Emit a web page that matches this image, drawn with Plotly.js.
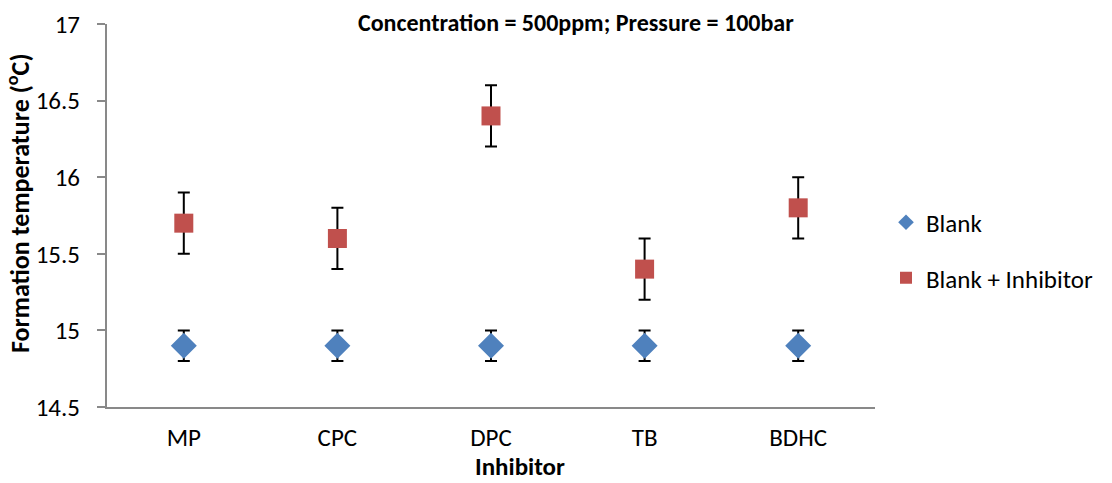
<!DOCTYPE html>
<html><head><meta charset="utf-8">
<script src="https://cdn.plot.ly/plotly-3.0.1.min.js"></script>
<style>html,body{margin:0;padding:0;background:#fff}#chart{width:1112px;height:483px}</style>
</head><body><div id="chart"></div>
<script>
const categories = ["MP", "CPC", "DPC", "TB", "BDHC"];
const blankValues = [14.9, 14.9, 14.9, 14.9, 14.9];
const blankErrors = [0.1, 0.1, 0.1, 0.1, 0.1];
const inhibitorValues = [15.7, 15.6, 16.4, 15.4, 15.8];
const inhibitorErrors = [0.2, 0.2, 0.2, 0.2, 0.2];
const yTickValues = [14.5, 15, 15.5, 16, 16.5, 17];

const FONT = "Carlito, Lato, 'Open Sans', sans-serif";

const traces = [
  {
    x: categories, y: blankValues, name: "Blank", type: "scatter", mode: "markers", legendgroup: "a",
    marker: {symbol: "diamond", size: 20, color: "#4F81BD"},
    error_y: {type: "data", array: blankErrors, visible: true, color: "#000", thickness: 2, width: 6}
  },
  {
    x: categories, y: inhibitorValues, name: "Blank + Inhibitor", type: "scatter", mode: "markers", legendgroup: "b",
    marker: {symbol: "square", size: 19, color: "#C0504D"},
    error_y: {type: "data", array: inhibitorErrors, visible: true, color: "#000", thickness: 2, width: 6}
  }
];

const layout = {
  width: 1112, height: 483,
  margin: {l: 107, r: 237, t: 24, b: 76, autoexpand: false},
  paper_bgcolor: "#fff", plot_bgcolor: "#fff",
  font: {family: FONT, size: 25, color: "#000"},
  showlegend: true,
  legend: {x: (886 - 107) / 768, y: (407 - 250) / 383, xanchor: "left", yanchor: "middle", font: {size: 25},
           tracegroupgap: 20, itemwidth: 30, itemsizing: "constant"},
  xaxis: {
    type: "category", range: [-0.5, 4.5], showgrid: false, zeroline: false,
    showline: true, linecolor: "#898989", linewidth: 2, ticks: "", tickfont: {size: 25},
    ticklabelstandoff: 7, fixedrange: true
  },
  yaxis: {
    range: [14.5, 17], tickvals: yTickValues, ticktext: yTickValues.map(String),
    showgrid: false, zeroline: false, showline: true, linecolor: "#898989", linewidth: 2,
    ticks: "outside", ticklen: 8, tickcolor: "#898989", tickwidth: 2, tickfont: {size: 25},
    ticklabelstandoff: 12
  },
  annotations: [
    {text: "<b>Concentration = 500ppm; Pressure = 100bar</b>", xref: "paper", yref: "paper",
     x: (576 - 107) / 768, y: 1.0, xanchor: "center", yanchor: "middle", yshift: 2, showarrow: false, font: {size: 24}},
    {text: "<b>Formation temperature (<sup>o</sup>C)</b>", xref: "paper", yref: "paper",
     x: 0, xshift: -89, y: (407 - 203) / 383, xanchor: "center", yanchor: "middle", textangle: -90, showarrow: false, font: {size: 26}},
    {text: "<b>Inhibitor</b>", xref: "paper", yref: "paper",
     x: (520 - 107) / 768, y: 0, yshift: -59, xanchor: "center", yanchor: "middle", showarrow: false, font: {size: 25}}
  ]
};

Plotly.newPlot("chart", traces, layout, {displayModeBar: false, staticPlot: true});
</script></body></html>
